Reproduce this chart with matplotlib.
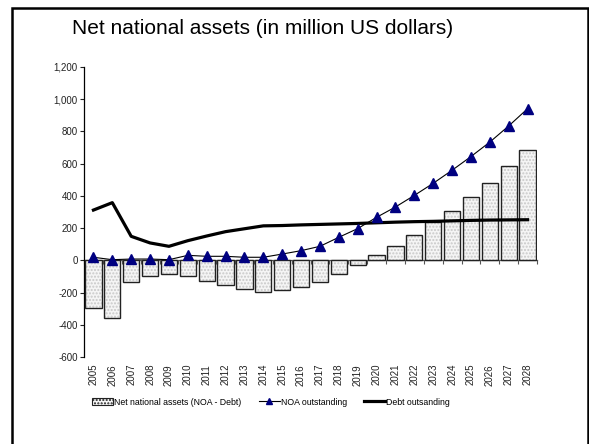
import numpy as np
import matplotlib
matplotlib.use('Agg')
import matplotlib.pyplot as plt
from matplotlib.patches import Rectangle, Patch
from matplotlib.lines import Line2D
from matplotlib.ticker import FuncFormatter, FixedLocator

plt.rcParams['font.family'] = ['Liberation Sans', 'DejaVu Sans']

years = [str(y) for y in range(2005, 2029)]

# net national assets = NOA - debt
net_assets = [-296, -356, -137, -99, -85, -95, -126, -151, -178, -197, -182, -163,
              -137, -87, -29, 31, 91, 160, 236, 308, 395, 482, 583, 685]
noa = [19, 4, 8, 8, 4, 31, 25, 25, 19, 19, 39, 60,
       87, 143, 197, 267, 331, 403, 478, 559, 644, 734, 834, 941]
debt = [312, 358, 149, 108, 87, 122, 151, 178, 196, 214, 216, 220,
        223, 226, 229, 233, 237, 240, 242, 245, 248, 250, 251, 252]

W, H = 589, 444
fig = plt.figure(figsize=(W / 100, H / 100), dpi=100)
ax = fig.add_axes([84 / W, 1 - 357 / H, (537 - 84) / W, (357 - 67) / H])

x = np.arange(len(years))
# dotted grey fill, then black outline
ax.bar(x, net_assets, width=0.86, color='#f5f5f5', edgecolor='#c8c8c8',
       hatch='.....', linewidth=0, zorder=2)
ax.bar(x, net_assets, width=0.86, fill=False, edgecolor='#222222',
       linewidth=1.0, zorder=3)
ax.plot(x, noa, color='black', lw=0.8, marker='^', markersize=6.5,
        markerfacecolor='#000080', markeredgecolor='#000080', zorder=5)
ax.plot(x, debt, color='black', lw=2.3, zorder=4)

ax.set_xlim(-0.5, len(years) - 0.5)
ax.set_ylim(-600, 1200)
ax.set_yticks(range(-600, 1201, 200))
ax.yaxis.set_major_formatter(FuncFormatter(lambda v, p: f'{int(v):,}'))
ax.tick_params(axis='y', labelsize=7, length=3, width=0.8, pad=1.5,
               direction='out', colors='#222222')

for s in ['top', 'right', 'bottom']:
    ax.spines[s].set_visible(False)
ax.spines['left'].set_linewidth(0.9)

# year labels sit at the bottom, the category axis crosses at zero
ax.set_xticks(x)
ax.set_xticklabels(years, rotation=90, fontsize=7)
ax.tick_params(axis='x', length=0, pad=5, colors='#222222')

zero_axis = ax.secondary_xaxis(0, transform=ax.transData)
zero_axis.spines['bottom'].set_linewidth(0.9)
zero_axis.spines['bottom'].set_color('#555555')
zero_axis.xaxis.set_major_locator(FixedLocator(np.arange(-0.5, len(years), 1.0)))
zero_axis.tick_params(axis='x', length=3, width=0.8, direction='out',
                      labelbottom=False, colors='#555555')

fig.text(263 / W, 1 - 29 / H, 'Net national assets (in million US dollars)',
         ha='center', va='center', fontsize=15)

handles = [
    Patch(facecolor='#f5f5f5', edgecolor='#222222', hatch='.....', linewidth=0.8),
    Line2D([], [], color='black', lw=0.8, marker='^', markersize=5,
           markerfacecolor='#000080', markeredgecolor='#000080'),
    Line2D([], [], color='black', lw=2.3),
]
labels = ['Net national assets (NOA - Debt)', 'NOA outstanding', 'Debt outsanding']
fig.legend(handles, labels, loc='center', bbox_to_anchor=(271 / W, 1 - 402 / H),
           ncol=3, frameon=False, fontsize=6.3, handlelength=2.4,
           handletextpad=0.1, columnspacing=2.0)

# outer frame
fig.patches.append(Rectangle((12 / W, -0.05), (588 - 12) / W, 1.05 - 8 / H,
                             transform=fig.transFigure, fill=False,
                             edgecolor='black', linewidth=1.8))

fig.savefig('out.png', dpi=100)
